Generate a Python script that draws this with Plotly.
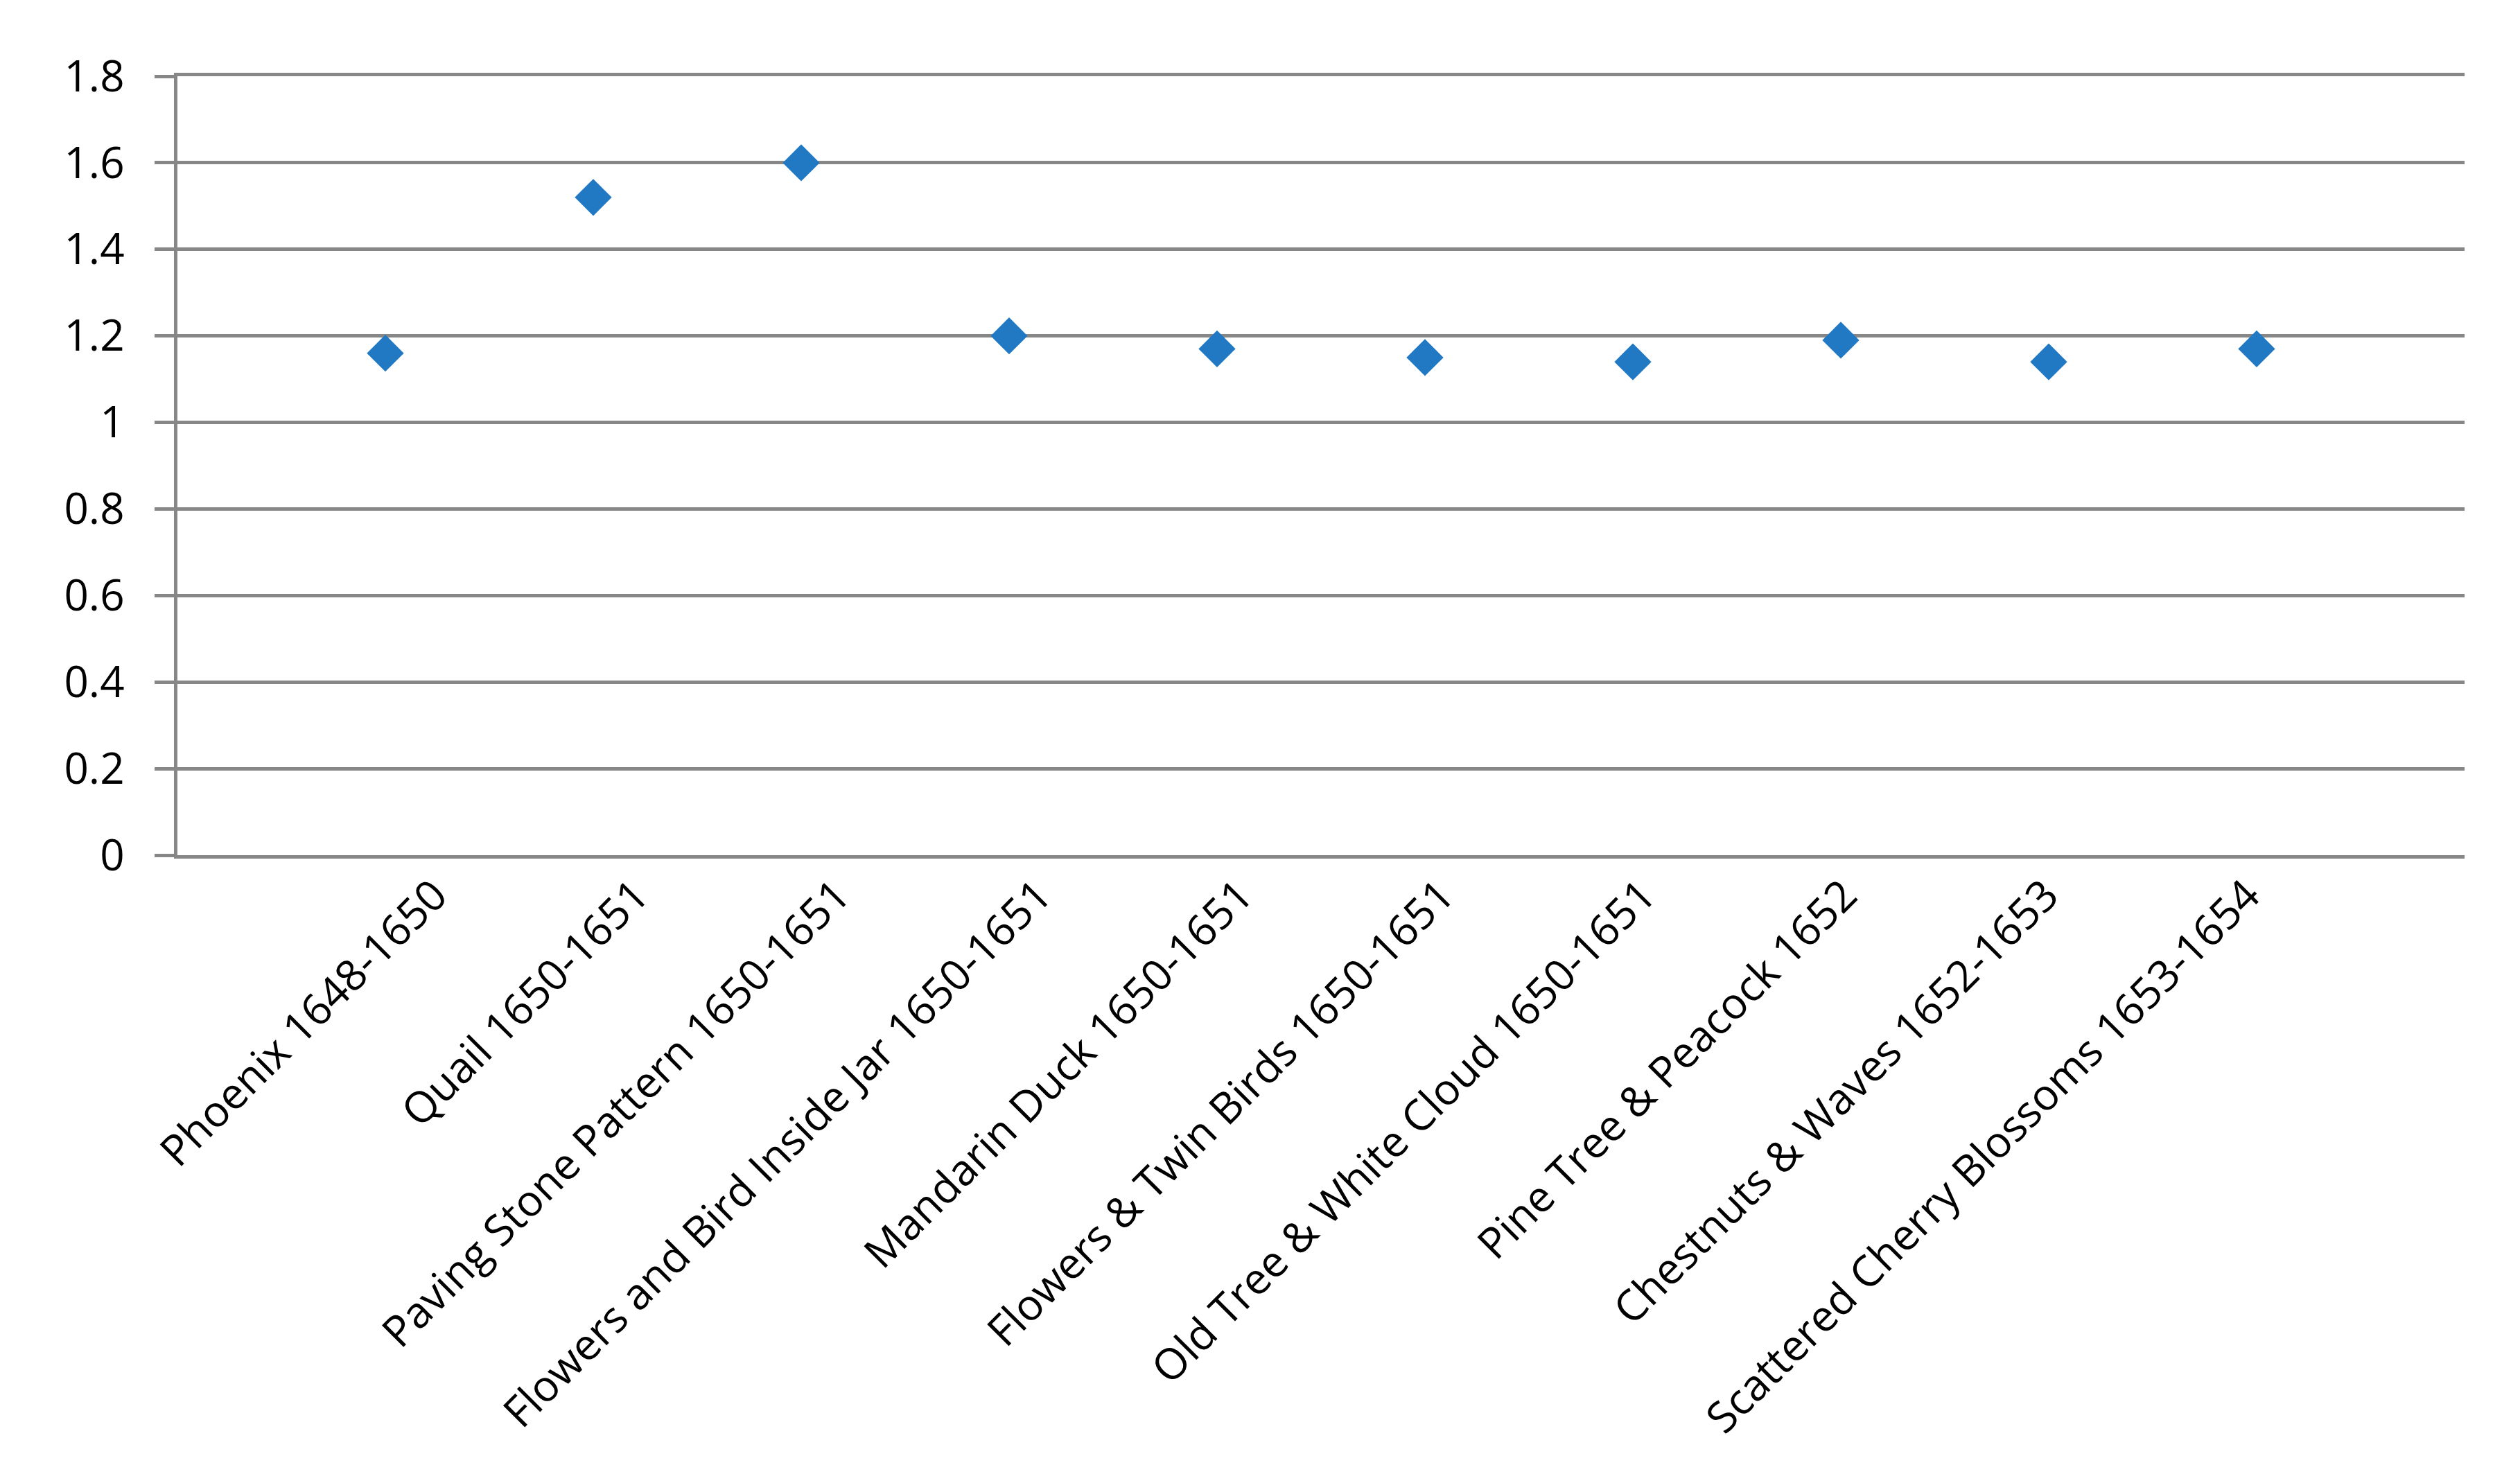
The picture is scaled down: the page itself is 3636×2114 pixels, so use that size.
import plotly.graph_objects as go

categories = [
    "Phoenix 1648-1650",
    "Quail 1650-1651",
    "Paving Stone Pattern 1650-1651",
    "Flowers and Bird Inside Jar 1650-1651",
    "Mandarin Duck 1650-1651",
    "Flowers & Twin Birds 1650-1651",
    "Old Tree & White Cloud 1650-1651",
    "Pine Tree & Peacock 1652",
    "Chestnuts & Waves 1652-1653",
    "Scattered Cherry Blossoms 1653-1654",
]
values = [1.16, 1.52, 1.60, 1.20, 1.17, 1.15, 1.14, 1.19, 1.14, 1.17]
positions = list(range(1, len(categories) + 1))
y_ticks = [0, 0.2, 0.4, 0.6, 0.8, 1.0, 1.2, 1.4, 1.6, 1.8]
y_ticktext = ["0", "0.2", "0.4", "0.6", "0.8", "1", "1.2", "1.4", "1.6", "1.8"]

GRID = "#878787"
FONT = "Open Sans"
FS = 62

fig = go.Figure()
fig.add_trace(go.Scatter(
    x=positions, y=values, mode="markers",
    marker=dict(symbol="diamond", size=41, color="#2179C4", line=dict(width=0)),
    showlegend=False,
))
# empty helper trace so the label axis (x2) gets drawn; it has no visible points
fig.add_trace(go.Scatter(
    x=positions, y=[None] * len(positions), mode="markers",
    xaxis="x2", yaxis="y", showlegend=False, hoverinfo="skip",
))

fig.update_layout(
    width=3636, height=2114,
    paper_bgcolor="white", plot_bgcolor="white",
    margin=dict(l=256, r=80, t=110, b=880, autoexpand=False),
    font=dict(family=FONT, size=FS, color="black"),
    xaxis=dict(
        range=[0, len(categories) + 1],
        tickmode="array", tickvals=positions,
        showticklabels=False, showgrid=False, zeroline=False,
        showline=True, mirror=True, linecolor=GRID, linewidth=5,
        ticks="",
    ),
    # label axis: Excel spaces the rotated labels slightly tighter than the categories
    xaxis2=dict(
        overlaying="x", anchor="y", side="bottom",
        range=[-0.2767, 11.079],
        tickmode="array", tickvals=positions, ticktext=categories,
        tickangle=-45, showgrid=False, zeroline=False, showline=False,
        ticks="", ticklabelstandoff=8,
        tickfont=dict(family=FONT, size=FS, color="black", weight=500),
    ),
    yaxis=dict(
        range=[0, 1.8],
        tickmode="array", tickvals=y_ticks, ticktext=y_ticktext,
        showgrid=True, gridcolor=GRID, gridwidth=5,
        zeroline=False,
        showline=True, linecolor=GRID, linewidth=5,
        ticks="outside", ticklen=28, tickcolor=GRID, tickwidth=5,
        ticklabelstandoff=31,
        tickfont=dict(family=FONT, size=FS, color="black", weight=500),
    ),
)

fig.write_html(
    "out.html",
    config={"displayModeBar": False},
    post_script="document.body.style.margin='0';document.body.style.overflow='hidden';",
)
